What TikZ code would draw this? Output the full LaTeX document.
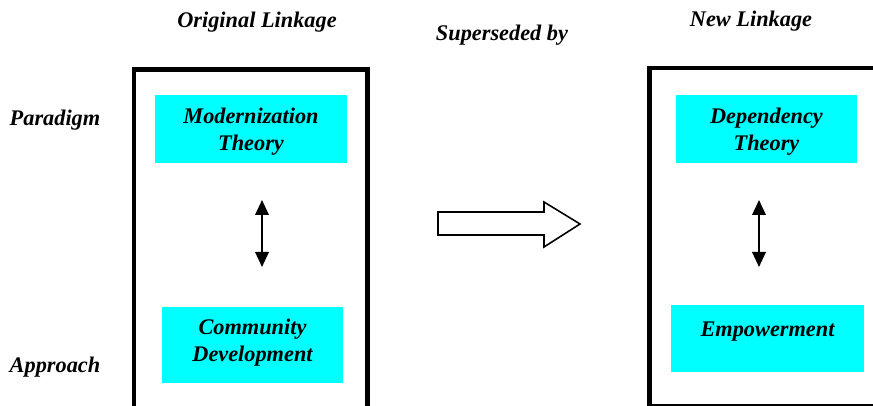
\documentclass[tikz,border=0pt]{standalone}
\usepackage{fontspec}
\setmainfont{Liberation Serif}
\usetikzlibrary{arrows.meta}
\definecolor{aqua}{RGB}{0,255,255}
\tikzset{
  >={Triangle[length=0.3cm,width=0.27cm]},
  frameline/.style={draw=black,line width=2.3pt},
  heading/.style={font=\fontsize{12.7}{15.4}\selectfont\bfseries\itshape,anchor=base},
  theorybox/.style={fill=aqua,font=\fontsize{12.7}{15.4}\selectfont\bfseries\itshape,align=center,inner sep=0pt},
  linkarrow/.style={draw=black,line width=1.1pt,<->},
  blockarrow/.style={draw=black,line width=0.9pt,fill=white}
}

\begin{document}
\begin{tikzpicture}
  \useasboundingbox (0,0) rectangle (17.46,8.12);
  % headings and row labels
  \node (orig) at (5.14,7.56) [heading] {Original Linkage};
  \node (new)  at (15.02,7.58) [heading] {New Linkage};
  \node (sup)  at (10.04,7.30) [heading] {Superseded by};
  \node (par)  at (1.10,5.60) [heading] {Paradigm};
  \node (appr) at (1.10,0.66) [heading] {Approach};
  % frames
  \draw (2.68,-0.3) -- (2.68,6.73) -- (7.35,6.73) -- (7.35,-0.3) [frameline];
  \draw (12.99,0) rectangle (17.9,6.76) [frameline];
  % boxes
  \node (mod) at (5.02,5.54) [theorybox,minimum width=3.84cm,text height=1.11cm,text depth=0.25cm] {Modernization\\Theory};
  \node (com) at (5.05,1.22) [theorybox,minimum width=3.62cm,text height=1.10cm,text depth=0.42cm] {Community\\Development};
  \node (dep) at (15.33,5.54) [theorybox,minimum width=3.62cm,text height=1.11cm,text depth=0.25cm] {Dependency\\Theory};
  \node (emp) at (15.35,1.35) [theorybox,minimum width=3.86cm,text height=0.64cm,text depth=0.70cm] {Empowerment};
  % two-way links
  \coordinate (lt) at (5.24,4.12);
  \coordinate (lb) at (5.24,2.78);
  \coordinate (rt) at (15.18,4.12);
  \coordinate (rb) at (15.18,2.78);
  \draw (lt) -- (lb) [linkarrow];
  \draw (rt) -- (rb) [linkarrow];
  % superseded arrow
  \draw (8.76,3.88) -- (10.88,3.88) -- (10.88,4.08) -- (11.60,3.64) -- (10.88,3.18) -- (10.88,3.42) -- (8.76,3.42) -- cycle [blockarrow];
\end{tikzpicture}
\end{document}
